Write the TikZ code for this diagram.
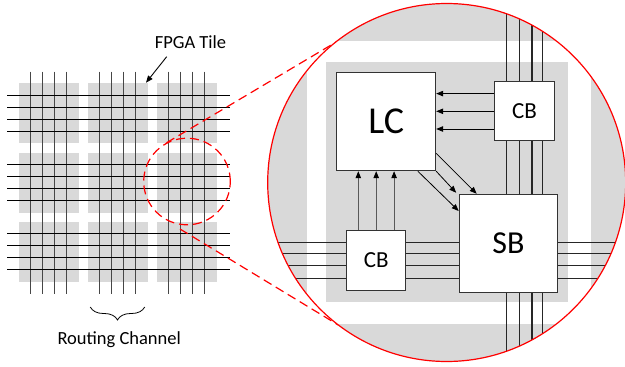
\documentclass[tikz,border=0pt]{standalone}
\usepackage{fontspec}
\setmainfont{Carlito}
\usetikzlibrary{arrows.meta,decorations.pathreplacing}
\definecolor{tilegray}{HTML}{D9D9D9}
\definecolor{wirecol}{HTML}{262626}
\begin{document}
\begin{tikzpicture}[x=1pt,y=-1pt,
  vwire/.style={draw=black!72,line width=1.2pt},
  hwire/.style={draw=black,line width=1.2pt},
  zwire/.style={draw=wirecol,line width=1.4pt},
  blk/.style={draw=black!80,fill=white,line width=1pt,inner sep=0pt},
  arr/.style={-{Triangle[length=7pt,width=5.5pt]},line width=0.8pt},
  uparr/.style={-{Triangle[length=7pt,width=5.5pt,fill=black,color=black]},line width=0.9pt,draw=black!65},
  zoomline/.style={draw=red,line width=1.2pt,dash pattern=on 9pt off 5pt},
  lbl/.style={font=\fontsize{18.5}{20}\selectfont}]
\useasboundingbox (0,0) rectangle (625,367);

% ---- left: FPGA fabric ----
\foreach \x in {19,88,157}
  \foreach \y in {83,153,222}
    \fill[tilegray] (\x,\y) rectangle ++(60,60);
\foreach \x in {30.7,42.7,54.7,66.7,99.7,111.7,123.7,135.7,168.7,180.7,192.7,204.7}
  \draw[vwire] (\x,71.7) -- (\x,294.3);
\foreach \y in {95.6,107.5,119.4,131.3,164.7,176.5,188.4,200.3,233.3,245.3,257.3,269.3}
  \draw[hwire] (7,\y) -- (230,\y);

\node[lbl,anchor=base] (ft) at (190.5,48.3) {FPGA Tile};
\coordinate (fa1) at (166.7,56.7);
\coordinate (fa2) at (146,82.7);
\draw[arr,line width=0.9pt] (fa1) -- (fa2);

\coordinate (b1) at (90.3,307);
\coordinate (b2) at (144.7,307);
\draw[decorate,decoration={brace,mirror,amplitude=13pt},line width=0.8pt] (b1) -- (b2);
\node[lbl,anchor=base] (rc) at (119.2,344) {Routing Channel};

% ---- zoom markers ----
\node[circle,zoomline,minimum size=86.6pt,inner sep=0pt] (zs) at (187,181.5) {};
\coordinate (u1) at (166.5,142.8);
\coordinate (u2) at (337,41.5);
\coordinate (l1) at (180,229);
\coordinate (l2) at (338.3,325);
\draw[zoomline] (u1) -- (u2);
\draw[zoomline] (l1) -- (l2);

% ---- right: zoomed tile ----
\coordinate (bigc) at (446.7,182.5);
\begin{scope}
  \clip (bigc) circle (179pt);
  \fill[tilegray] (bigc) circle (179pt);
  \fill[white] (306.7,40.7) rectangle (590.5,323.5);
  \fill[tilegray] (326,61.7) rectangle (568.3,301.7);
  \foreach \x in {506.7,519.3,532,542.7}
    \draw[zwire] (\x,0) -- (\x,367);
  \foreach \y in {242.3,253.3,265.7,278.3}
    \draw[zwire] (260,\y) -- (630,\y);
\end{scope}

\node[blk,minimum width=99pt,minimum height=98.4pt,font=\fontsize{38}{40}\selectfont] (LC) at (386.2,121.5) {LC};
\node[blk,minimum width=59.6pt,minimum height=59.3pt,font=\fontsize{23}{25}\selectfont] (CB1) at (524.5,111.3) {CB};
\node[blk,minimum width=59.5pt,minimum height=59.8pt,font=\fontsize{23}{25}\selectfont] (CB2) at (376.2,260.1) {CB};
\node[blk,minimum width=98.6pt,minimum height=98.2pt,font=\fontsize{32}{34}\selectfont] (SB) at (508.5,243.4) {SB};

\foreach \dy in {-17.7,0,17.7}
  \draw[arr] ([yshift=\dy pt]CB1.west) -- ([yshift=\dy pt]CB1.west -| LC.east);
\foreach \dx in {-17.9,0,17.9}
  \draw[uparr] ([xshift=\dx pt]CB2.north) -- ([xshift=\dx pt]CB2.north |- LC.south);

\draw[arr] ([yshift=-31.8pt]LC.east) -- ([xshift=-31.8pt]SB.north);
\draw[arr] (LC.south east) -- ([xshift=-2.5pt,yshift=1pt]SB.north west);
\draw[arr] ([xshift=-18.4pt]LC.south east) -- ([yshift=32.4pt]SB.west);

\draw[red,line width=1.2pt] (bigc) circle (179pt);
\end{tikzpicture}
\end{document}
